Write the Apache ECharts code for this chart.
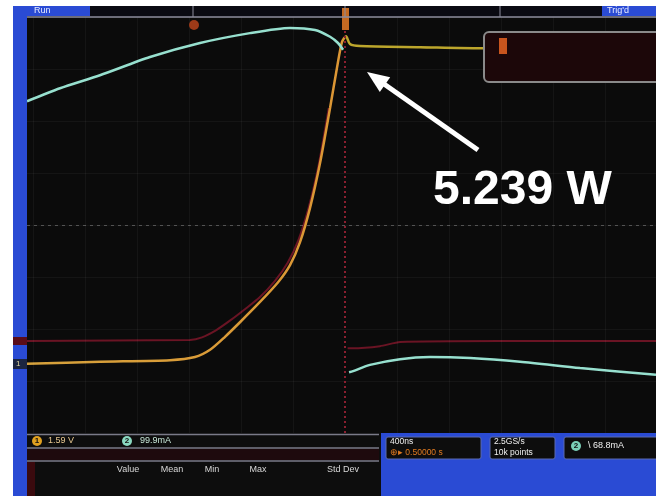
<!DOCTYPE html>
<html>
<head>
<meta charset="utf-8">
<script src="https://cdn.jsdelivr.net/npm/echarts@6/dist/echarts.min.js"></script>
<style>
  html, body { margin: 0; padding: 0; background: #ffffff; }
  #scope { width: 656px; height: 496px; }
</style>
</head>
<body>
<div id="scope"></div>
<script>
// Time axis in ns (400 ns/div, trigger at 0); vertical values in screen divisions.
// null marks the fast edge at the trigger, which the scope leaves as sparse dots.
const ch2Time = [-2446, -2192, -1885, -1500, -1115, -731, -423, -231, -115, -54, -15, 8, 31, 62, 192, 423, 654, 962, 1346, 1808, 2392];
const ch2Div  = [2.38, 2.63, 2.88, 3.23, 3.50, 3.69, 3.79, 3.75, 3.62, 3.50, 3.37, null, -2.83, -2.81, -2.69, -2.58, -2.54, -2.56, -2.63, -2.75, -2.88];

const ch1Time = [-2446, -1885, -1346, -1154, -1038, -923, -808, -654, -515, -423, -346, -269, -192, -115, -62, -23, 8, 38, 115, 577, 1038, 1654, 2392];
const ch1Div  = [-2.67, -2.63, -2.60, -2.54, -2.40, -2.15, -1.87, -1.48, -1.10, -0.77, -0.33, 0.33, 1.19, 2.25, 3.02, 3.52, 3.63, 3.48, 3.44, 3.42, 3.40, 3.40, 3.40];

const refTime = [-2446, -1192, -1100, -990, -880, -760, -660, -540, -440, -360, -280, -200, -125, 0, 20, 54, 269, 423, 1192, 2392];
const refDiv  = [-2.23, -2.21, -2.16, -2.02, -1.83, -1.60, -1.40, -1.08, -0.72, -0.30, 0.33, 1.19, 2.25, null, -2.37, -2.37, -2.33, -2.25, -2.23, -2.23];

const gridTimes = [-2400, -2000, -1600, -1200, -800, -400, 400, 800, 1200, 1600, 2000];
const tableHeaders = ['Value', 'Mean', 'Min', 'Max', 'Std Dev'];
const ch1Scale = '1.59 V';
const ch2Scale = '99.9mA';
const timeBase = '400ns';
const delayText = '\u2295\u25B8 0.50000 s';
const sampleRate = '2.5GS/s';
const recordLen = '10k points';
const trigLevel = '68.8mA';
const peakPower = 5.239;

const X_MIN = -2446, X_MAX = 2392;
const pairs = (xs, ys) => xs.map((x, i) => [x, ys[i]]);

const BLUE = '#2a4bd4';
const FONT = 'Liberation Sans, Arial, sans-serif';

function rect(x, y, w, h, fill, extra) {
  return Object.assign({ type: 'rect', z: 100, silent: true,
    shape: { x, y, width: w, height: h, r: (extra && extra.r) || 0 },
    style: Object.assign({ fill }, (extra && extra.style) || {}) });
}
function line(x1, y1, x2, y2, stroke, w) {
  return { type: 'line', z: 101, silent: true, shape: { x1, y1, x2, y2 }, style: { stroke, lineWidth: w || 1 } };
}
function text(x, y, str, color, size, extra) {
  return { type: 'text', z: 102, silent: true, x, y,
    style: Object.assign({ text: str, fill: color, font: (size || 9) + 'px ' + FONT, textVerticalAlign: 'middle' }, extra || {}) };
}
function dot(cx, cy, r, fill, label, labelColor) {
  const g = [{ type: 'circle', z: 101, silent: true, shape: { cx, cy, r }, style: { fill } }];
  if (label) g.push(text(cx, cy, label, labelColor || '#111', 8, { textAlign: 'center', font: 'bold 8px ' + FONT }));
  return g;
}

const graphics = [
  // page margin and blue bezel
  rect(0, 0, 13, 496, '#ffffff'),
  rect(0, 0, 656, 6, '#ffffff'),
  rect(13, 6, 14, 490, BLUE),
  // status bar
  rect(27, 6, 629, 11, '#0a0a12'),
  rect(13, 6, 77, 10, BLUE),
  rect(602, 6, 54, 10, BLUE),
  text(34, 11, 'Run', '#e8ecff', 9),
  text(607, 11, "Trig'd", '#e8ecff', 9),
  line(27, 17, 656, 17, '#8c8c9c', 1.5),
  line(193, 6, 193, 17, '#8c8c9c', 1),
  line(345, 6, 345, 17, '#8c8c9c', 1),
  line(500, 6, 500, 17, '#8c8c9c', 1),
  // position / trigger markers
  ...dot(194, 25, 5, '#9c3a18'),
  rect(342, 8, 7, 22, '#c46a22'),
  // channel ground markers
  rect(13, 337, 14, 8, '#5a0c18'),
  rect(13, 359, 14, 10, '#1c2540'),
  text(16, 364, '1', '#e0d8a0', 8),
  // measurement readout box
  rect(484, 32, 190, 50, '#1c0709', { r: 5, style: { stroke: '#8a8a8a', lineWidth: 2 } }),
  rect(499, 38, 8, 16, '#c8551e'),
  // bottom-left readout panel
  rect(27, 433, 354, 63, '#0d0d0d'),
  line(27, 434.5, 379, 434.5, '#7a7a88', 1.5),
  line(27, 448, 379, 448, '#7a7a88', 1.5),
  rect(27, 449, 352, 11, '#1e0a0d'),
  line(27, 461, 379, 461, '#7a7a88', 1.5),
  rect(27, 462, 8, 34, '#3a0a0e'),
  ...dot(37, 441, 5, '#e0a020', '1'),
  text(48, 441, ch1Scale, '#e8c890', 9),
  ...dot(127, 441, 5, '#8ad8c0', '2'),
  text(140, 441, ch2Scale, '#c8e8d8', 9),
  // bottom-right timebase panel
  rect(381, 433, 275, 63, BLUE),
  rect(386, 437, 95, 22, '#0d0d0d', { r: 2, style: { stroke: '#5a6ab0', lineWidth: 1 } }),
  rect(490, 437, 65, 22, '#0d0d0d', { r: 2, style: { stroke: '#5a6ab0', lineWidth: 1 } }),
  rect(564, 437, 100, 22, '#0d0d0d', { r: 2, style: { stroke: '#5a6ab0', lineWidth: 1 } }),
  text(390, 442, timeBase, '#f0f0f0', 8.5),
  text(390, 453, delayText, '#e07a20', 8.5),
  text(494, 442, sampleRate, '#f0f0f0', 8.5),
  text(494, 453, recordLen, '#f0f0f0', 8.5),
  ...dot(576, 446, 5, '#7ad0b8', '2'),
  text(588, 446, '\\ ' + trigLevel, '#f0f0f0', 9),
  // annotation arrow and value
  line(478, 150, 384, 84, '#ffffff', 5),
  { type: 'polygon', z: 101, silent: true, shape: { points: [[367, 72], [390.2, 77.2], [379.8, 92]] }, style: { fill: '#ffffff' } },
  text(433, 191, peakPower.toFixed(3) + ' W', '#ffffff', 48, { font: 'bold 48px ' + FONT })
];

const headerX = [128, 172, 212, 258, 343];
tableHeaders.forEach((h, i) => graphics.push(text(headerX[i], 470, h, '#d8d8d8', 9, { textAlign: 'center' })));

// CH1 is gold before the trigger and olive-yellow after it
const trigFrac = (0 - X_MIN) / (X_MAX - X_MIN);
const ch1Color = new echarts.graphic.LinearGradient(0, 0, 1, 0, [
  { offset: 0, color: '#d6a23c' },
  { offset: trigFrac - 0.004, color: '#dc9634' },
  { offset: trigFrac + 0.004, color: '#bca62c' },
  { offset: 1, color: '#bca62c' }
]);

const chart = echarts.init(document.getElementById('scope'), null, { renderer: 'canvas' });
chart.setOption({
  backgroundColor: '#0b0b0b',
  animation: false,
  grid: { left: 27, top: 17, width: 629, height: 416 },
  xAxis: {
    type: 'value', min: X_MIN, max: X_MAX,
    axisLine: { show: false }, axisTick: { show: false }, axisLabel: { show: false }, splitLine: { show: false }
  },
  yAxis: {
    type: 'value', min: -4, max: 4, interval: 1,
    axisLine: { show: false }, axisTick: { show: false }, axisLabel: { show: false },
    splitLine: { show: true, lineStyle: { color: 'rgba(255,255,255,0.045)', width: 1 } }
  },
  series: [
    {
      name: 'REF', type: 'line', data: pairs(refTime, refDiv), showSymbol: false, smooth: 0.2,
      connectNulls: false, lineStyle: { color: '#6a1424', width: 2 }, z: 2,
      markLine: {
        silent: true, symbol: 'none', label: { show: false },
        data: [
          ...gridTimes.map(t => ({ xAxis: t, lineStyle: { color: 'rgba(255,255,255,0.045)', width: 1, type: 'solid' } })),
          { yAxis: 0, lineStyle: { color: 'rgba(200,200,200,0.35)', width: 1, type: [3, 4] } },
          { xAxis: 0, lineStyle: { color: '#8a2030', width: 2, type: [2, 3] } }
        ]
      }
    },
    {
      name: 'CH1', type: 'line', data: pairs(ch1Time, ch1Div), showSymbol: false, smooth: 0.25,
      lineStyle: { color: ch1Color, width: 2.5 }, z: 3
    },
    {
      name: 'CH2', type: 'line', data: pairs(ch2Time, ch2Div), showSymbol: false, smooth: 0.25,
      connectNulls: false, lineStyle: { color: '#97e0cf', width: 2.5 }, z: 4
    }
  ],
  graphic: { elements: graphics }
});
</script>
</body>
</html>
